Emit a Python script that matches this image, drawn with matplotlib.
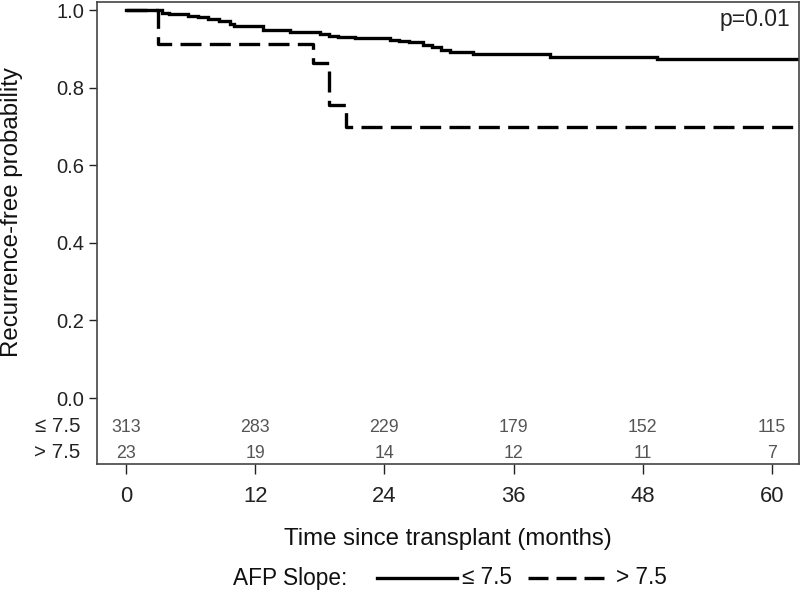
import matplotlib
matplotlib.use("Agg")
import matplotlib.pyplot as plt
from matplotlib.lines import Line2D

plt.rcParams['font.family'] = ['Liberation Sans', 'DejaVu Sans']

# Kaplan-Meier step data (time in months, survival)
low_t = [0, 3.3, 4.0, 5.8, 6.7, 7.6, 8.6, 9.7, 10.0, 12.7, 15.2, 18.0, 18.9, 19.7, 21.3,
         24.5, 25.4, 26.3, 27.6, 28.4, 29.3, 30.1, 32.2, 39.4, 49.3, 62.5]
low_s = [1.0, 0.993, 0.989, 0.985, 0.981, 0.977, 0.971, 0.964, 0.959, 0.948, 0.943, 0.938,
         0.934, 0.930, 0.928, 0.923, 0.921, 0.918, 0.910, 0.904, 0.898, 0.892, 0.887, 0.879,
         0.874, 0.874]
high_t = [0, 3.0, 17.4, 18.9, 20.4, 62.5]
high_s = [1.0, 0.913, 0.863, 0.755, 0.698, 0.698]

risk_times = [0, 12, 24, 36, 48, 60]
risk_low = [313, 283, 229, 179, 152, 115]
risk_high = [23, 19, 14, 12, 11, 7]
group_labels = ["\u2264 7.5", "> 7.5"]

DASH = (0, (6.3, 2.5))

fig = plt.figure(figsize=(8, 5.91), dpi=100)
ax = fig.add_axes([97/800, 127/591, 702/800, 462/591])

ax.step(low_t, low_s, where='post', color='black', lw=2.4, solid_joinstyle='miter')
ax.step(high_t, high_s, where='post', color='black', lw=2.4, linestyle=DASH,
        dash_capstyle='butt')

ax.set_xlim(-2.69, 62.5)
ax.set_ylim((398-464)/388, (398-2)/388)
ax.set_xticks(risk_times)
ax.set_yticks([0.0, 0.2, 0.4, 0.6, 0.8, 1.0])
ax.set_yticklabels(["0.0", "0.2", "0.4", "0.6", "0.8", "1.0"])
ax.tick_params(axis='y', labelsize=14.5, length=6, width=1, colors='#222222', pad=3)
ax.tick_params(axis='x', labelsize=15.8, length=7, width=1, colors='#222222', pad=9)
for sp in ax.spines.values():
    sp.set_color('#444444')
    sp.set_linewidth(1.2)

ax.set_xlabel("Time since transplant (months)", fontsize=17.3, color='#111111', labelpad=15)
ax.set_ylabel("Recurrence-free probability", fontsize=17.3, color='#111111')
ax.yaxis.set_label_coords(-0.105, (464 - 212) / 462)

# p value
ax.text(61.7, 0.975, "p=0.01", ha='right', va='center', fontsize=16.5, color='#222222')

# number at risk table
y_low = (398-427)/388
y_high = (398-453)/388
for t, a, b in zip(risk_times, risk_low, risk_high):
    ax.text(t, y_low, str(a), ha='center', va='center', fontsize=12.8, color='#555555')
    ax.text(t, y_high, str(b), ha='center', va='center', fontsize=12.8, color='#555555')
ax.text(-0.024, y_low, group_labels[0], transform=ax.get_yaxis_transform(), ha='right',
        va='center', fontsize=14.8, color='#222222')
ax.text(-0.024, y_high, group_labels[1], transform=ax.get_yaxis_transform(), ha='right',
        va='center', fontsize=14.8, color='#222222')

# legend
ly = (591-578)/591
fig.text(233/800, ly, "AFP Slope:", ha='left', va='center', fontsize=16.3, color='#111111')
fig.add_artist(Line2D([377/800, 457/800], [ly, ly], color='black', lw=2.4, transform=fig.transFigure))
fig.text(462/800, ly, group_labels[0], ha='left', va='center', fontsize=16.3, color='#111111')
fig.add_artist(Line2D([528/800, 604/800], [ly, ly], color='black', lw=2.4,
                      linestyle=(0, (6.0, 2.4)), dash_capstyle='butt',
                      transform=fig.transFigure))
fig.text(616/800, ly, group_labels[1], ha='left', va='center', fontsize=16.3, color='#111111')

fig.savefig("out.png", dpi=100)
